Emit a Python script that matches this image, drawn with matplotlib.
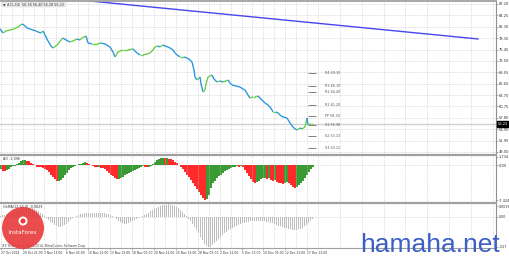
import matplotlib
matplotlib.use("Agg")
import matplotlib.pyplot as plt
import numpy as np
from matplotlib.collections import LineCollection
from matplotlib.lines import Line2D
from matplotlib.patches import Ellipse

W, H = 510, 256

# ---------------- data ----------------
header = "▼ #CL,H4  56.38 56.40 56.28 56.23"
price_x = [0, 3, 6, 10, 14, 18, 22, 25, 27, 30, 33, 36, 38, 41, 43, 45, 48, 51, 53, 56, 58, 61, 63, 66,
           70, 73, 77, 80, 82, 86, 88, 92, 97, 101, 105, 110, 113, 115, 118, 123, 128, 133, 137, 140,
           143, 147, 150, 153, 155, 158, 160, 163, 165, 168, 170, 173, 175, 177, 180, 184, 187, 190,
           192, 194, 195, 197, 200, 201, 203, 205, 206, 208, 210, 212, 214, 217, 220, 223, 226, 228,
           230, 232, 236, 240, 243, 245, 248, 250, 253, 255, 258, 260, 263, 265, 268, 270, 272, 273,
           276, 278, 281, 283, 287, 290, 293, 295, 297, 300, 302, 305, 307, 308, 311, 313]
price_y = [80.75, 79.72, 80.23, 80.49, 80.75, 81.26, 82.04, 81.52, 81.01, 80.75, 80.49, 80.23, 79.97,
           79.72, 80.23, 79.20, 77.65, 76.36, 75.84, 76.36, 76.88, 77.91, 78.42, 77.91, 77.39, 77.65,
           78.17, 77.91, 78.42, 78.94, 77.13, 76.88, 76.88, 77.13, 76.88, 76.10, 74.81, 73.52, 74.81,
           75.33, 75.33, 75.59, 74.55, 74.04, 74.04, 74.30, 74.55, 75.33, 76.10, 76.36, 76.10, 76.62,
           76.36, 76.10, 75.84, 75.33, 74.55, 74.04, 73.52, 73.52, 73.26, 72.75, 72.23, 70.17, 68.36,
           67.58, 68.36, 66.55, 64.49, 65.00, 66.55, 68.36, 68.62, 68.87, 67.84, 67.07, 67.33, 67.07,
           67.33, 67.58, 66.81, 66.29, 66.04, 65.78, 65.26, 65.00, 63.71, 62.94, 63.20, 63.20, 63.45,
           62.94, 62.16, 61.65, 61.13, 60.62, 59.84, 59.33, 59.33, 59.07, 58.29, 58.03, 57.78, 56.49,
           55.45, 54.94, 54.68, 55.20, 54.94, 55.45, 57.78, 55.97, 56.23, 56.23]
last_price = 56.23
trend_x = [90, 478]
trend_y = [87.97, 78.17]

pivot_names = ["R4", "R3", "R2", "R1", "PP", "S1", "S2", "S3"]
pivot_values = [69.30, 66.10, 64.40, 61.20, 58.30, 55.90, 53.13, 50.12]

price_ticks = [87.20, 84.25, 81.30, 78.35, 75.45, 72.50, 69.55, 66.60, 63.70, 60.75, 57.80, 54.90, 51.95, 49.00]

bar_x = list(range(0, 313, 2))
ao = [-0.9, -1.2, -1.3, -1.1, -0.8, -0.4, -0.2, -0.1, 0.2, 0.5, 0.8, 1.0, 1.05, 0.95, 0.8, 0.5, 0.3,
      0.0, -0.3, -0.4, -0.5, -0.6, -0.8, -1.1, -1.5, -2.0, -2.6, -3.0, -3.3, -3.3, -3.1, -2.7, -2.2,
      -1.6, -1.0, -0.6, -0.3, -0.1, 0.1, 0.2, 0.3, 0.5, 0.6, 0.55, 0.3, 0.1, -0.2, -0.4, -0.5, -0.5,
      -0.6, -0.7, -0.9, -1.2, -1.6, -2.0, -2.4, -2.7, -2.9, -2.9, -2.8, -2.5, -2.2, -1.9, -1.6, -1.4,
      -1.2, -1.1, -0.9, -0.6, -0.3, -0.1, -0.3, -0.5, -0.4, -0.1, 0.3, 0.7, 1.1, 1.4, 1.5, 1.5, 1.45,
      1.5, 1.4, 1.2, 1.0, 0.7, 0.4, 0.1, -0.3, -0.8, -1.4, -2.0, -2.6, -3.2, -3.8, -4.4, -5.0, -5.7,
      -6.4, -7.0, -7.4, -7.3, -6.3, -4.8, -3.8, -3.3, -2.8, -2.4, -2.0, -1.6, -1.3, -1.1, -0.9, -0.7,
      -0.5, -0.3, -0.2, -0.4, -0.2, -0.5, -1.0, -1.6, -2.3, -3.0, -3.5, -3.7, -3.6, -3.3, -3.0, -2.8,
      -2.7, -2.9, -2.8, -3.1, -3.3, -3.2, -3.5, -3.7, -3.9, -4.0, -3.8, -3.6, -3.9, -4.3, -4.7, -4.9,
      -4.6, -4.2, -3.8, -3.3, -2.7, -2.0, -1.4, -0.8, -0.3]
osma = [0.0010, 0.0015, 0.0020, 0.0025, 0.0030, 0.0036, 0.0042, 0.0048, 0.0054, 0.0060, 0.0065,
        0.0070, 0.0074, 0.0077, 0.0079, 0.0079, 0.0077, 0.0072, 0.0064, 0.0052, 0.0038, 0.0022,
        0.0006, -0.0010, -0.0026, -0.0042, -0.0056, -0.0069, -0.0079, -0.0086, -0.0087, -0.0082,
        -0.0072, -0.0058, -0.0042, -0.0026, -0.0012, 0.0000, 0.0009, 0.0016, 0.0022, 0.0027, 0.0031,
        0.0034, 0.0035, 0.0036, 0.0036, 0.0035, 0.0034, 0.0033, 0.0033, 0.0032, 0.0031, 0.0029,
        0.0025, 0.0018, 0.0008, -0.0004, -0.0018, -0.0032, -0.0046, -0.0056, -0.0060, -0.0058,
        -0.0052, -0.0043, -0.0033, -0.0023, -0.0014, -0.0006, 0.0002, 0.0010, 0.0019, 0.0029,
        0.0039, 0.0049, 0.0059, 0.0069, 0.0078, 0.0087, 0.0095, 0.0101, 0.0106, 0.0109, 0.0110,
        0.0109, 0.0105, 0.0099, 0.0090, 0.0078, 0.0063, 0.0046, 0.0027, 0.0007, -0.0015, -0.0038,
        -0.0062, -0.0088, -0.0115, -0.0144, -0.0174, -0.0206, -0.0236, -0.0260, -0.0268, -0.0262,
        -0.0248, -0.0230, -0.0212, -0.0194, -0.0177, -0.0161, -0.0146, -0.0132, -0.0119, -0.0107,
        -0.0096, -0.0086, -0.0077, -0.0069, -0.0062, -0.0056, -0.0050, -0.0045, -0.0041, -0.0038,
        -0.0036, -0.0035, -0.0034, -0.0034, -0.0035, -0.0036, -0.0038, -0.0041, -0.0045, -0.0050,
        -0.0056, -0.0062, -0.0069, -0.0076, -0.0083, -0.0090, -0.0096, -0.0102, -0.0106, -0.0110,
        -0.0113, -0.0114, -0.0113, -0.0109, -0.0103, -0.0094, -0.0083, -0.0069, -0.0053, -0.0036,
        -0.0020]

time_labels = ["27 Oct 2014", "29 Oct 21:00", "3 Nov 13:00", "6 Nov 05:00", "10 Nov 21:00",
               "13 Nov 13:00", "18 Nov 05:00", "20 Nov 21:00", "25 Nov 13:00", "28 Nov 05:00",
               "2 Dec 21:00", "5 Dec 13:00", "10 Dec 05:00", "12 Dec 21:00", "17 Dec 13:00"]
time_pos = [1, 23, 44, 66, 88, 110, 132, 154, 176, 198, 220, 242, 263, 285, 307]

# ---------------- figure ----------------
plt.rcParams['font.family'] = ['DejaVu Sans']
fig = plt.figure(figsize=(W / 100, H / 100), dpi=100)
fig.patch.set_facecolor('white')


def rect(x0, y0, x1, y1):
    return [x0 / W, 1 - y1 / H, (x1 - x0) / W, (y1 - y0) / H]


def py(y):
    return 1 - y / H


ax_m = fig.add_axes(rect(0, 1, 496, 154))
ax_a = fig.add_axes(rect(0, 156, 496, 202))
ax_o = fig.add_axes(rect(0, 204, 496, 248))

grid_minor = list(np.arange(12, 496, 21.86))
GC = '#c4c4c4'
TS = 2.6
for ax in (ax_m, ax_a, ax_o):
    ax.set_xlim(0, 496)
    for s in ('left', 'top', 'bottom'):
        ax.spines[s].set_visible(False)
    ax.spines['right'].set_color('#909090')
    ax.spines['right'].set_linewidth(0.8)
    ax.yaxis.tick_right()
    ax.tick_params(axis='y', length=1.2, width=0.4, color='#707070', labelsize=TS, pad=0.8,
                   labelcolor='#333333')
    ax.set_xticks(time_pos)
    ax.set_xticks(grid_minor, minor=True)
    ax.grid(True, which='both', axis='x', color=GC, linestyle=(0, (1, 1.5)), linewidth=0.5)
    ax.set_facecolor('white')

for ax in (ax_m, ax_a):
    ax.tick_params(axis='x', which='both', length=0, labelbottom=False)

# main price panel
ax_m.set_ylim(48.48, 87.97)
ax_m.set_yticks(price_ticks, [f"{v:.2f}" for v in price_ticks])
ax_m.grid(True, axis='y', color=GC, linestyle=(0, (1, 1.5)), linewidth=0.5)
ax_m.axhline(last_price, color='#d0d0d0', lw=1.0, zorder=1)

pts = np.column_stack([price_x, price_y])
segs = np.stack([pts[:-1], pts[1:]], axis=1)
cols = ['#6ccc4c' if b >= a else '#2b97dd' for a, b in zip(price_y[:-1], price_y[1:])]
ax_m.add_collection(LineCollection(segs, colors=cols, linewidths=1.0, zorder=3))

ax_m.plot(trend_x, trend_y, color='#4646ee', lw=1.0, zorder=3)

ax_m.hlines(pivot_values, 308, 316, color='#808080', lw=0.7, zorder=2)
for n, v in zip(pivot_names, pivot_values):
    ax_m.text(325, v, f"{n} {v:.2f}", fontsize=2.4, color='#555555', va='center', ha='left')

ax_m.annotate(f"{last_price:.2f}", xy=(1.0, last_price), xycoords=('axes fraction', 'data'),
              xytext=(1.2, 0), textcoords='offset points', fontsize=TS, color='white',
              va='center', ha='left', annotation_clip=False,
              bbox=dict(boxstyle='square,pad=0.15', fc='black', ec='black'))

ax_m.text(3, 87.0, header, fontsize=2.4, color='#333333', va='center', ha='left',
          bbox=dict(boxstyle='square,pad=0.2', fc='#eeeeee', ec='#cccccc', lw=0.3))

# AO panel
ao_cols = ['#3a9b35' if i == 0 or ao[i] >= ao[i - 1] else '#ff2a2a' for i in range(len(ao))]
ax_a.bar(bar_x, ao, width=2.0, color=ao_cols, align='edge', linewidth=0)
ax_a.set_ylim(-7.84, 1.94)
ax_a.set_yticks([1.734, 0.0, -7.424], ["1.734", "0.00", "-7.424"])
ax_a.axhline(0, color=GC, linestyle=(0, (1, 1.5)), linewidth=0.5, zorder=0)
ax_a.text(3, 1.3, "AO -1.096", fontsize=2.4, color='#333333', va='center', ha='left')

# OsMA panel
ax_o.bar(bar_x, osma, width=1.3, color='#bdbdbd', align='edge', linewidth=0)
ax_o.set_ylim(-0.0274, 0.0114)
ax_o.set_yticks([0.0096, 0.0, -0.0265], ["0.0096", "0.00", "-.027"])
ax_o.tick_params(axis='y', labelsize=2.3, pad=0.6)
ax_o.axhline(0, color=GC, linestyle=(0, (1, 1.5)), linewidth=0.5, zorder=0)
ax_o.text(3, 0.0084, "OsMA(12,26,9) -0.0029", fontsize=2.4, color='#333333', va='center', ha='left')
ax_o.text(2, -0.0255, "IFX Terminal, © 2001-2014, MetaQuotes Software Corp.", fontsize=2.2,
          color='#444444', va='center', ha='left', zorder=6)
ax_o.set_xticks(time_pos, time_labels)
ax_o.tick_params(axis='x', which='major', length=1.2, width=0.4, labelsize=2.2, pad=0.6,
                 labelcolor='#333333', color='#707070')
ax_o.tick_params(axis='x', which='minor', length=0)
for lab in ax_o.get_xticklabels():
    lab.set_horizontalalignment('left')

# separators / borders
for yy, lw in ((0.6, 1.3), (155, 1.6), (203, 1.6), (248.3, 0.8)):
    fig.add_artist(Line2D([0, 496 / W], [py(yy), py(yy)], color='#a0a0a0', lw=lw))

# InstaForex watermark
fig.add_artist(Ellipse((23 / W, py(228)), 42 / W, 42 / H, fc='#e8393a', ec='none', alpha=0.9,
                       zorder=10))
fig.add_artist(Ellipse((23 / W, py(221)), 9 / W, 9 / H, fc='white', ec='none', zorder=11))
fig.add_artist(Ellipse((23 / W, py(221)), 5 / W, 5 / H, fc='#e8393a', ec='none', zorder=12))
fig.text(23 / W, py(232), "InstaForex", fontsize=4.0, color='white', ha='center', va='center',
         zorder=13)

# hamaha.net watermark
fig.text(360 / W, py(252), "hamaha.net", fontsize=19, color='#3b5fc4', ha='left',
         va='baseline', family=['Liberation Sans', 'DejaVu Sans'], zorder=20)

fig.savefig("out.png", dpi=100, facecolor='white')
